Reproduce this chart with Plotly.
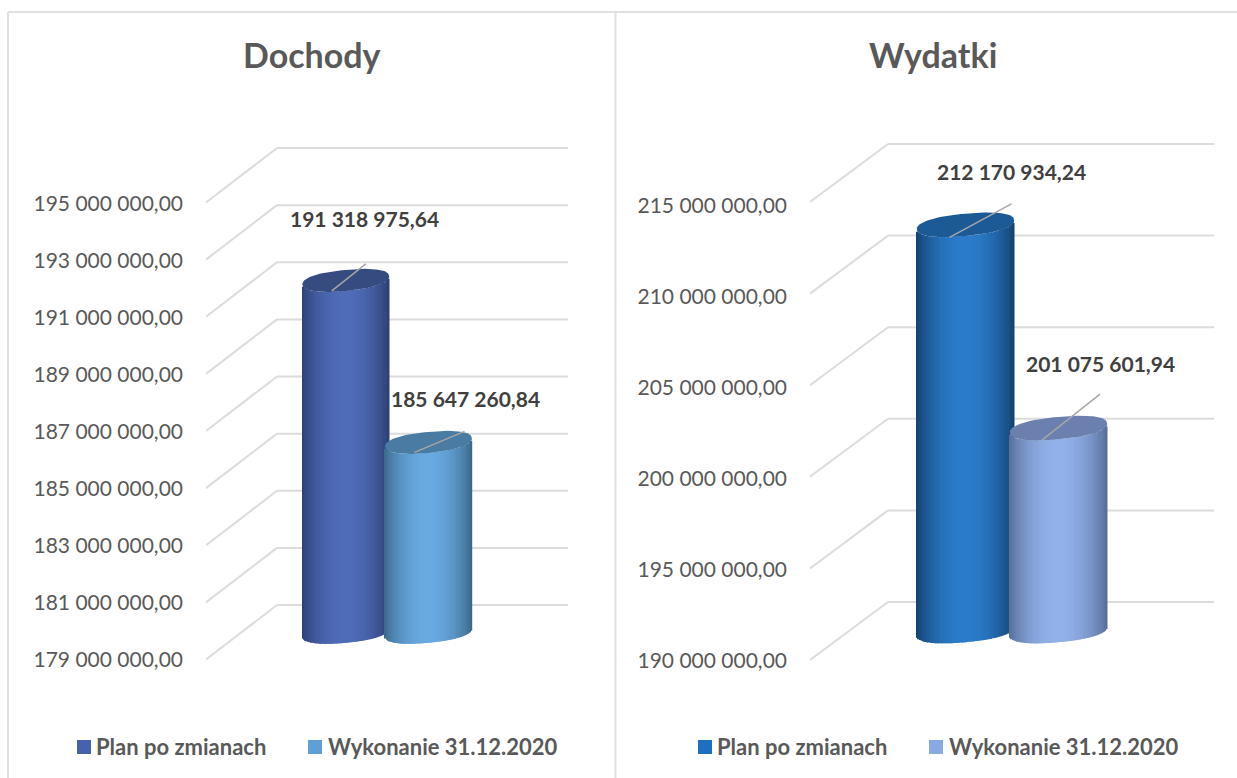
import math
import plotly.graph_objects as go

W, H = 1237, 778
series_names = ["Plan po zmianach", "Wykonanie 31.12.2020"]
titles = ["Dochody", "Wydatki"]
dochody_values = [191318975.64, 185647260.84]
wydatki_values = [212170934.24, 201075601.94]
dochody_ticks = [179e6, 181e6, 183e6, 185e6, 187e6, 189e6, 191e6, 193e6, 195e6]
wydatki_ticks = [190e6, 195e6, 200e6, 205e6, 210e6, 215e6]

FONT = "Lato"
GRID = "#dcdcdc"
GREY = "#595959"
DARK = "#404040"
ROUND = 2.3


def lerp_hex(a, b, t):
    ca = [int(a[i:i + 2], 16) for i in (1, 3, 5)]
    cb = [int(b[i:i + 2], 16) for i in (1, 3, 5)]
    return "#%02x%02x%02x" % tuple(round(p + (q - p) * t) for p, q in zip(ca, cb))


def px_y(py):
    return 1 - py / H


def spow(v, e):
    return math.copysign(abs(v) ** e, v)


panels = [
    dict(title=titles[0], title_x=312, values=dochody_values, ticks=dochody_ticks,
         left=206, back=277, right=568, top=100, bottom=700,
         back_lo=(179e6, 605), back_hi=(195e6, 148),
         front_lo=(179e6, 660), front_hi=(195e6, 204),
         depth=54.5, centers=[345.8, 428.5], half=43.4, b=10.5, s=4.0,
         swatch=[("#4762ad", "#2c3e72", "#4f6cb9", "#364b80"),
                 ("#5f9fd6", "#3a6788", "#68aae2", "#4a7ba3")],
         leaders=[((-14, 10.5), (20, -16.5), (19, -61.5)),
                  ((-14, 10), (36, -11), (36.5, -44))],
         legend_px=[(77, 94), (308, 326)],
         xa="xaxis", ya="yaxis", ya2="yaxis2", x="x", y="y", y2="y2"),
    dict(title=titles[1], title_x=933, values=wydatki_values, ticks=wydatki_ticks,
         left=810, back=888, right=1214, top=100, bottom=700,
         back_lo=(190e6, 602), back_hi=(215e6, 144),
         front_lo=(190e6, 661), front_hi=(215e6, 206),
         depth=58, centers=[965.5, 1058.5], half=48.7, b=11.2, s=4.4,
         swatch=[("#1f6fc0", "#123f6b", "#2a7ccb", "#1c5a96"),
                 ("#8aa9e0", "#546b96", "#92b1ea", "#6b80ae")],
         leaders=[((-16, 12.5), (46, -21), (46, -53)),
                  ((-16.5, 12), (41.5, -34), (41.5, -65))],
         legend_px=[(698, 715), (929, 947)],
         xa="xaxis2", ya="yaxis3", ya2="yaxis4", x="x2", y="y3", y2="y4"),
]

fig = go.Figure()
shapes = []
annotations = []
layout = {}
N_STRIPS = 70

for p in panels:
    ppm = (p["back_lo"][1] - p["back_hi"][1]) / (p["back_hi"][0] - p["back_lo"][0])
    to_val = lambda py, p=p, ppm=ppm: p["back_lo"][0] + (p["back_lo"][1] - py) / ppm
    ppm2 = (p["front_lo"][1] - p["front_hi"][1]) / (p["front_hi"][0] - p["front_lo"][0])
    to_val2 = lambda py, p=p, ppm2=ppm2: p["front_lo"][0] + (p["front_lo"][1] - py) / ppm2
    xspan = p["right"] - p["left"]
    to_x = lambda px, p=p, xspan=xspan: (px - p["left"]) / xspan

    layout[p["xa"]] = dict(domain=[p["left"] / W, p["right"] / W], range=[0, 1],
                           visible=False, fixedrange=True)
    layout[p["ya"]] = dict(domain=[px_y(p["bottom"]), px_y(p["top"])],
                           range=[to_val(p["bottom"]), to_val(p["top"])],
                           anchor=p["x"], visible=False)
    layout[p["ya2"]] = dict(domain=[px_y(p["bottom"]), px_y(p["top"])],
                            range=[to_val2(p["bottom"]), to_val2(p["top"])],
                            anchor=p["x"], overlaying=p["y"], side="left",
                            tickmode="array", tickvals=p["ticks"], tickformat=",.2f",
                            showgrid=False, zeroline=False, showline=False, ticks="",
                            ticklabelstandoff=22,
                            tickfont=dict(family=FONT, size=21, color=GREY))

    # invisible carrier so the label axis is drawn
    fig.add_trace(go.Scatter(x=[0] * len(p["ticks"]), y=p["ticks"], xaxis=p["x"], yaxis=p["y2"],
                             mode="markers", marker=dict(opacity=0), showlegend=False,
                             hoverinfo="skip"))

    dv = p["depth"] / ppm
    for t in p["ticks"]:
        shapes.append(dict(type="line", xref=p["x"], yref=p["y"], layer="below",
                           x0=to_x(p["back"]), x1=1, y0=t, y1=t,
                           line=dict(color=GRID, width=2)))
        shapes.append(dict(type="line", xref=p["x"], yref=p["y"], layer="below",
                           x0=0, x1=to_x(p["back"]), y0=t - dv, y1=t,
                           line=dict(color=GRID, width=2)))

    floor_val = p["ticks"][0]
    for i, value in enumerate(p["values"]):
        sw, edge, mid, topc = p["swatch"][i]
        cx, a = p["centers"][i], p["half"]
        vm = value - (p["depth"] / 2) / ppm
        fm = floor_val - (p["depth"] / 2) / ppm
        xs, bases, heights, cols = [], [], [], []
        for k in range(N_STRIPS):
            u = -1 + (2 * k + 1) / N_STRIPS
            arc = p["b"] * (1 - abs(u) ** ROUND) ** (1 / ROUND)
            top_v = vm + (p["s"] * u - arc) / ppm
            bot_v = fm + (p["s"] * u - arc) / ppm
            xs.append(to_x(cx + a * u))
            bases.append(bot_v)
            heights.append(top_v - bot_v)
            shade = math.sin((u + 1) / 2 * math.pi) ** 0.75
            cols.append(lerp_hex(edge, mid, shade))
        fig.add_trace(go.Bar(x=xs, y=heights, base=bases, width=(2 * a / N_STRIPS + 0.6) / xspan,
                             marker=dict(color=cols, line=dict(width=0)), xaxis=p["x"], yaxis=p["y"],
                             name=series_names[i], showlegend=False, hoverinfo="skip"))
        ex, ey = [], []
        for k in range(97):
            th = 2 * math.pi * k / 96
            cu, su = spow(math.cos(th), 2 / ROUND), spow(math.sin(th), 2 / ROUND)
            ex.append(to_x(cx + a * cu))
            ey.append(vm + (p["s"] * cu + p["b"] * su) / ppm)
        fig.add_trace(go.Scatter(x=ex, y=ey, mode="lines", fill="toself", fillcolor=topc,
                                 line=dict(width=0, color=topc), xaxis=p["x"], yaxis=p["y"],
                                 showlegend=False, hoverinfo="skip"))
        start, end, label = p["leaders"][i]
        fig.add_trace(go.Scatter(x=[to_x(cx + start[0]), to_x(cx + end[0])],
                                 y=[vm - start[1] / ppm, vm - end[1] / ppm],
                                 mode="lines", line=dict(color="#a6a6a6", width=1.5),
                                 xaxis=p["x"], yaxis=p["y"], showlegend=False, hoverinfo="skip"))
        txt = f"{value:,.2f}".replace(",", " ").replace(".", ",")
        annotations.append(dict(x=to_x(cx), y=vm, xref=p["x"], yref=p["y"], text=txt, showarrow=False,
                                xshift=label[0], yshift=-label[1], xanchor="center", yanchor="middle",
                                font=dict(family=FONT, size=21, color=DARK, weight=700)))
        # legend entry
        sx, tx = p["legend_px"][i]
        shapes.append(dict(type="rect", xref="paper", yref="paper", layer="above",
                           x0=sx / W, x1=(sx + 14) / W, y0=px_y(754), y1=px_y(740),
                           fillcolor=sw, line=dict(width=0)))
        annotations.append(dict(x=tx / W, y=px_y(746.5), xref="paper", yref="paper", text=series_names[i],
                                showarrow=False, xanchor="left", yanchor="middle",
                                font=dict(family=FONT, size=22, color=GREY, weight=700)))
    annotations.append(dict(x=p["title_x"] / W, y=px_y(55), xref="paper", yref="paper", text=p["title"],
                            showarrow=False, xanchor="center", yanchor="middle",
                            font=dict(family=FONT, size=34, color=GREY, weight=700)))

FRAME = "#e0e0e0"
for x0, y0, x1, y1 in [(8, 12, 8, H), (8, 12, W, 12), (615.5, 12, 615.5, H)]:
    shapes.append(dict(type="line", xref="paper", yref="paper", layer="below",
                       x0=x0 / W, x1=x1 / W, y0=px_y(y0), y1=px_y(y1),
                       line=dict(color=FRAME, width=2)))

fig.update_layout(width=W, height=H, margin=dict(l=0, r=0, t=0, b=0), autosize=False,
                  paper_bgcolor="white", plot_bgcolor="rgba(0,0,0,0)", barmode="overlay",
                  showlegend=False, separators=", ", shapes=shapes, annotations=annotations, **layout)

fig.write_html("out.html", config={"displayModeBar": False},
               post_script="document.body.style.margin='0';document.documentElement.style.overflow='hidden';")
